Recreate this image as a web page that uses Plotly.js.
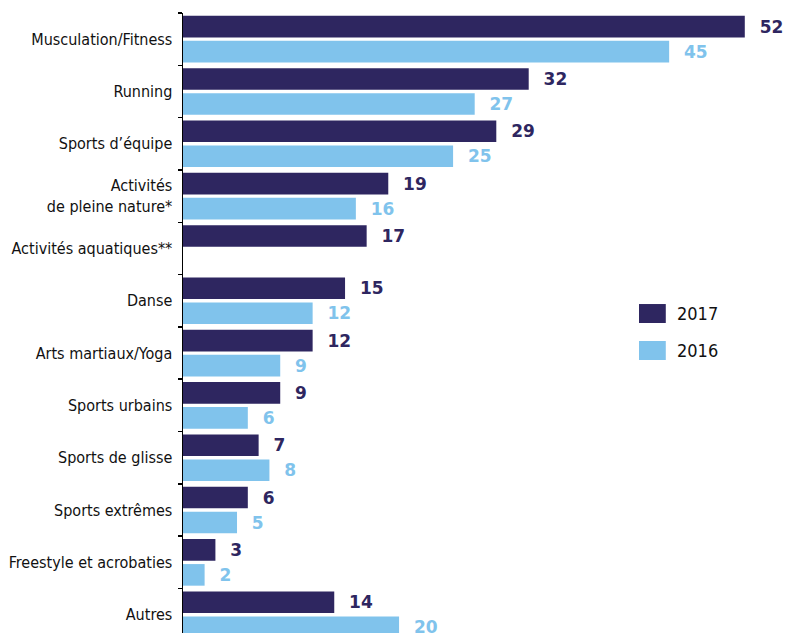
<!DOCTYPE html>
<html>
<head>
<meta charset="utf-8">
<script src="https://cdn.plot.ly/plotly-3.0.1.min.js"></script>
<style>html,body{margin:0;padding:0;background:#fff;}#chart{width:788px;height:633px;}</style>
</head>
<body>
<div id="chart"></div>
<script>
const categories = [
  'Musculation/Fitness',
  'Running',
  'Sports d’équipe',
  'Activités<br>de pleine nature*',
  'Activités aquatiques**',
  'Danse',
  'Arts martiaux/Yoga',
  'Sports urbains',
  'Sports de glisse',
  'Sports extrêmes',
  'Freestyle et acrobaties',
  'Autres'
];
const values2017 = [52, 32, 29, 19, 17, 15, 12, 9, 7, 6, 3, 14];
const values2016 = [45, 27, 25, 16, null, 12, 9, 6, 8, 5, 2, 20];
const seriesNames = ['2017', '2016'];
const seriesColors = ['#2e2660', '#80c3ec'];

const labelFont = 'DejaVu Sans Condensed, Liberation Sans Narrow, Arial Narrow, sans-serif';
const valueFont = 'DejaVu Sans, Verdana, sans-serif';

function makeTrace(vals, i) {
  return {
    type: 'bar',
    orientation: 'h',
    name: seriesNames[i],
    y: categories,
    x: vals,
    marker: {color: seriesColors[i]},
    text: vals.map(v => v == null ? '' : '\u00a0\u00a0' + v),
    textposition: 'outside',
    constraintext: 'none',
    cliponaxis: false,
    textfont: {family: valueFont, size: 17, color: seriesColors[i], weight: 'bold'},
    hoverinfo: 'x+y'
  };
}

const data = [makeTrace(values2017, 0), makeTrace(values2016, 1)];

const swatches = [
  {x0: 0.7537, x1: 0.798, y0: 0.5, y1: 0.5306, ty: 0.515},
  {x0: 0.7537, x1: 0.798, y0: 0.4403, y1: 0.471, ty: 0.4556}
];

const layout = {
  width: 788,
  height: 633,
  margin: {l: 183, r: 0, t: 13, b: 0},
  paper_bgcolor: '#ffffff',
  plot_bgcolor: '#ffffff',
  barmode: 'group',
  bargap: 0.044,
  bargroupgap: 0.136,
  showlegend: false,
  xaxis: {
    range: [0, 56],
    visible: false,
    showgrid: false,
    zeroline: false
  },
  yaxis: {
    type: 'category',
    range: [11.35, -0.5],
    showline: true,
    linecolor: '#000',
    linewidth: 1.5,
    ticks: 'outside',
    tickson: 'boundaries',
    ticklen: 4,
    tickwidth: 1.5,
    tickcolor: '#000',
    ticklabelstandoff: 6,
    showgrid: false,
    zeroline: false,
    tickfont: {family: labelFont, size: 16, color: '#111'}
  },
  shapes: swatches.map((s, i) => ({
    type: 'rect', xref: 'paper', yref: 'paper',
    x0: s.x0, x1: s.x1, y0: s.y0, y1: s.y1,
    fillcolor: seriesColors[i], line: {width: 0}
  })),
  annotations: swatches.map((s, i) => ({
    xref: 'paper', yref: 'paper', x: 0.813, y: s.ty,
    xanchor: 'left', yanchor: 'middle', showarrow: false,
    text: seriesNames[i],
    font: {family: labelFont, size: 18, color: '#111'}
  }))
};

Plotly.newPlot('chart', data, layout, {displayModeBar: false, staticPlot: true});
</script>
</body>
</html>
